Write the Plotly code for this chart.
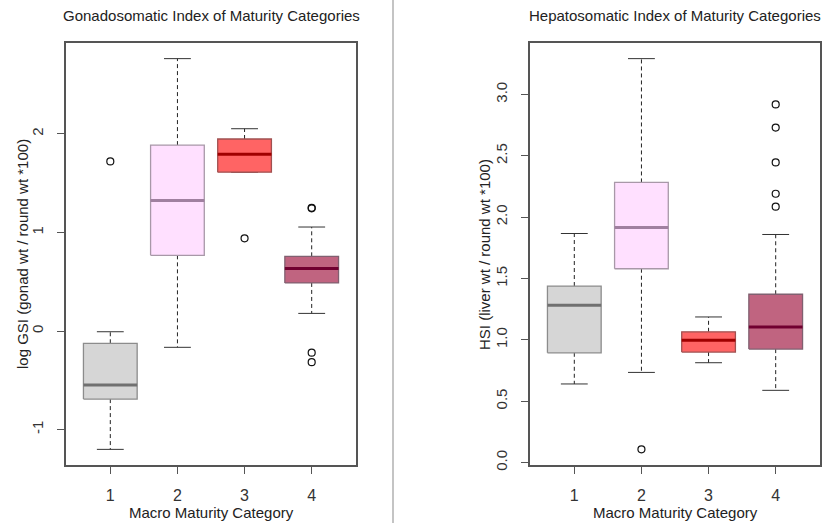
import plotly.graph_objects as go

categories = [1, 2, 3, 4]
cat_labels = ["1", "2", "3", "4"]

# Gonadosomatic index (log GSI) box statistics
gsi_low = [-1.200, -0.165, 1.611, 0.179]
gsi_q1 = [-0.690, 0.768, 1.611, 0.488]
gsi_med = [-0.546, 1.324, 1.793, 0.634]
gsi_q3 = [-0.124, 1.886, 1.948, 0.758]
gsi_high = [-0.007, 2.763, 2.052, 1.055]
gsi_out = [[1.72], [], [0.94], [1.250, 1.245, -0.219, -0.316]]
gsi_ticks = [-1, 0, 1, 2]
gsi_ticktext = ["-1", "0", "1", "2"]

# Hepatosomatic index box statistics
hsi_low = [0.641, 0.735, 0.814, 0.589]
hsi_q1 = [0.895, 1.580, 0.901, 0.925]
hsi_med = [1.282, 1.915, 0.998, 1.106]
hsi_q3 = [1.439, 2.283, 1.066, 1.372]
hsi_high = [1.867, 3.292, 1.187, 1.859]
hsi_out = [[], [0.108], [], [2.919, 2.730, 2.446, 2.191, 2.086]]
hsi_ticks = [0.0, 0.5, 1.0, 1.5, 2.0, 2.5, 3.0]
hsi_ticktext = ["0.0", "0.5", "1.0", "1.5", "2.0", "2.5", "3.0"]

fill_colors = ["#D6D6D6", "#FFE0FF", "#FF6464", "#C06480"]
border_colors = ["#8C8C8C", "#A898A8", "#A05050", "#806070"]
median_colors = ["#707070", "#A080A0", "#A00000", "#700030"]

BOXW = 0.4
CAPW = 0.2

fig = go.Figure()


def add_panel(xa, ya, low, q1, med, q3, high, outs):
    for i, c in enumerate(categories):
        # whiskers
        fig.add_trace(go.Scatter(
            x=[c, c, None, c, c], y=[q3[i], high[i], None, q1[i], low[i]],
            mode="lines", line=dict(color="#222222", width=1, dash="4px,3px"),
            xaxis=xa, yaxis=ya, showlegend=False, hoverinfo="skip"))
        # caps
        fig.add_trace(go.Scatter(
            x=[c - CAPW, c + CAPW, None, c - CAPW, c + CAPW],
            y=[high[i], high[i], None, low[i], low[i]],
            mode="lines", line=dict(color="#333333", width=1),
            xaxis=xa, yaxis=ya, showlegend=False, hoverinfo="skip"))
        # box
        fig.add_trace(go.Scatter(
            x=[c - BOXW, c + BOXW, c + BOXW, c - BOXW, c - BOXW],
            y=[q1[i], q1[i], q3[i], q3[i], q1[i]],
            mode="lines", fill="toself", fillcolor=fill_colors[i],
            line=dict(color=border_colors[i], width=1.3),
            xaxis=xa, yaxis=ya, showlegend=False, hoverinfo="skip"))
        # median
        fig.add_trace(go.Scatter(
            x=[c - BOXW, c + BOXW], y=[med[i], med[i]],
            mode="lines", line=dict(color=median_colors[i], width=3),
            xaxis=xa, yaxis=ya, showlegend=False, hoverinfo="skip"))
        # outliers
        if outs[i]:
            fig.add_trace(go.Scatter(
                x=[c] * len(outs[i]), y=outs[i], mode="markers",
                marker=dict(symbol="circle-open", size=7,
                            color="#111111", line=dict(width=1.2)),
                xaxis=xa, yaxis=ya, showlegend=False, hoverinfo="skip"))


add_panel("x", "y", gsi_low, gsi_q1, gsi_med, gsi_q3, gsi_high, gsi_out)
add_panel("x2", "y2", hsi_low, hsi_q1, hsi_med, hsi_q3, hsi_high, hsi_out)


def yrange(low, high, outs):
    vals = list(low) + list(high) + [v for o in outs for v in o]
    lo, hi = min(vals), max(vals)
    pad = (hi - lo) * 0.04
    return [lo - pad, hi + pad]


xr = [0.5 - 0.16, 4.5 + 0.16]
font = "Liberation Sans, Arial, sans-serif"
axcol = "#555555"
common_x = dict(range=xr, tickvals=categories, ticktext=cat_labels,
                showline=True, mirror=True, linecolor=axcol, linewidth=1.5,
                ticks="outside", ticklen=7, tickcolor=axcol, tickwidth=1.3,
                showgrid=False, zeroline=False, ticklabelstandoff=8, automargin=False,
                tickfont=dict(family=font, size=16, color="#333333"))
common_y = dict(showline=True, mirror=True, linecolor=axcol, linewidth=1.5,
                ticks="outside", ticklen=7, tickcolor=axcol, tickwidth=1.3,
                showgrid=False, zeroline=False, tickangle=-90, ticklabelstandoff=8,
                automargin=False,
                tickfont=dict(family=font, size=15, color="#333333"))

dom_y = [58 / 523, 480 / 523]
fig.update_layout(
    width=822, height=523,
    margin=dict(l=0, r=0, t=0, b=0, pad=0, autoexpand=False),
    paper_bgcolor="white", plot_bgcolor="white",
    xaxis=dict(domain=[66 / 822, 356 / 822], anchor="y", **common_x),
    yaxis=dict(domain=dom_y, anchor="x", range=yrange(gsi_low, gsi_high, gsi_out),
               tickvals=gsi_ticks, ticktext=gsi_ticktext, **common_y),
    xaxis2=dict(domain=[530 / 822, 820 / 822], anchor="y2", **common_x),
    yaxis2=dict(domain=dom_y, anchor="x2", range=yrange(hsi_low, hsi_high, hsi_out),
                tickvals=hsi_ticks, ticktext=hsi_ticktext, **common_y),
    shapes=[dict(type="line", xref="paper", yref="paper", x0=393 / 822, x1=393 / 822,
                 y0=0, y1=1, line=dict(color="#B0B0B0", width=1.5))],
)

ann_font = dict(family=font, size=15, color="#222222")
annotations = [
    dict(text="Gonadosomatic Index of Maturity Categories", x=211 / 822, y=1 - 16 / 523,
         font=dict(family=font, size=15, color="#222222")),
    dict(text="Hepatosomatic Index of Maturity Categories", x=675 / 822, y=1 - 16 / 523,
         font=dict(family=font, size=15, color="#222222")),
    dict(text="Macro Maturity Category", x=211 / 822, y=1 - 512 / 523, font=ann_font),
    dict(text="Macro Maturity Category", x=675 / 822, y=1 - 512 / 523, font=ann_font),
    dict(text="log GSI (gonad wt / round wt *100)", x=22 / 822, y=1 - 254 / 523,
         textangle=-90, font=ann_font),
    dict(text="HSI (liver wt / round wt *100)", x=484 / 822, y=1 - 254 / 523,
         textangle=-90, font=ann_font),
]
for a in annotations:
    a.update(xref="paper", yref="paper", showarrow=False, xanchor="center", yanchor="middle")
fig.update_layout(annotations=annotations)

fig.write_html("out.html", config={"displayModeBar": False},
               post_script="document.body.style.margin='0';document.body.style.overflow='hidden';")
